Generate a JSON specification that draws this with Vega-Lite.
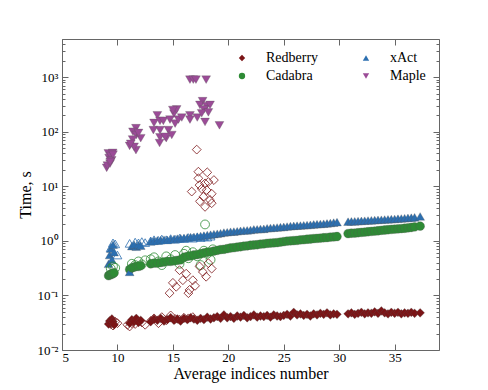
{
  "$schema": "https://vega.github.io/schema/vega-lite/v6.json",
  "width": 377,
  "height": 311,
  "autosize": {"type": "none"},
  "padding": {"left": 62, "top": 39, "right": 49, "bottom": 40},
  "background": "white",
  "config": {
    "font": "Liberation Serif",
    "view": {"stroke": null},
    "axis": {"grid": false, "domainColor": "#666", "tickColor": "#666", "labelColor": "#000", "titleColor": "#000", "labelFont": "Liberation Serif", "titleFont": "Liberation Serif", "titleFontWeight": "normal", "labelFontSize": 13, "titleFontSize": 16},
    "legend": {"orient": "none", "legendX": 173, "legendY": 12, "columns": 2, "labelFontSize": 14, "labelFont": "Liberation Serif", "labelColor": "#000", "symbolSize": 40, "labelOffset": 17, "columnPadding": 40, "rowPadding": 4, "padding": 0, "symbolStrokeWidth": 0}
  },
  "data": {
    "values": [
      {"x": 9.2, "v": "main", "Redberry": 0.030, "Cadabra": 0.23, "xAct": 0.38},
      {"x": 9.3, "v": "main", "Redberry": 0.034, "Cadabra": 0.24, "xAct": 0.55},
      {"x": 9.4, "v": "main", "Redberry": 0.031, "Cadabra": 0.24, "xAct": 0.72},
      {"x": 9.5, "v": "main", "Redberry": 0.037, "Cadabra": 0.25, "xAct": 0.45},
      {"x": 9.6, "v": "main", "Redberry": 0.033, "Cadabra": 0.25, "xAct": 0.85},
      {"x": 9.7, "v": "main", "Redberry": 0.029, "Cadabra": 0.26, "xAct": 0.62},
      {"x": 11.1, "v": "main", "Redberry": 0.031, "Cadabra": 0.30, "xAct": 0.27},
      {"x": 11.3, "v": "main", "Redberry": 0.036, "Cadabra": 0.32, "xAct": 0.80},
      {"x": 11.5, "v": "main", "Redberry": 0.033, "Cadabra": 0.33, "xAct": 0.85},
      {"x": 11.7, "v": "main", "Redberry": 0.038, "Cadabra": 0.34, "xAct": 0.78},
      {"x": 11.9, "v": "main", "Redberry": 0.032, "Cadabra": 0.34, "xAct": 0.84},
      {"x": 12.1, "v": "main", "Redberry": 0.035, "Cadabra": 0.35, "xAct": 0.82},
      {"x": 13.0, "v": "main", "Redberry": 0.033, "Cadabra": 0.38, "xAct": 0.98},
      {"x": 13.3, "v": "main", "Redberry": 0.037, "Cadabra": 0.39, "xAct": 1.00},
      {"x": 13.6, "v": "main", "Redberry": 0.035, "Cadabra": 0.39, "xAct": 1.02},
      {"x": 13.9, "v": "main", "Redberry": 0.038, "Cadabra": 0.40, "xAct": 1.03},
      {"x": 14.2, "v": "main", "Redberry": 0.034, "Cadabra": 0.41, "xAct": 1.05},
      {"x": 14.5, "v": "main", "Redberry": 0.036, "Cadabra": 0.42, "xAct": 1.04},
      {"x": 14.8, "v": "main", "Redberry": 0.039, "Cadabra": 0.42, "xAct": 1.07},
      {"x": 15.1, "v": "main", "Redberry": 0.035, "Cadabra": 0.43, "xAct": 1.08},
      {"x": 15.4, "v": "main", "Redberry": 0.037, "Cadabra": 0.44, "xAct": 1.10},
      {"x": 15.7, "v": "main", "Redberry": 0.034, "Cadabra": 0.45, "xAct": 1.12},
      {"x": 16.0, "v": "main", "Redberry": 0.038, "Cadabra": 0.50, "xAct": 1.13},
      {"x": 16.3, "v": "main", "Redberry": 0.036, "Cadabra": 0.52, "xAct": 1.15},
      {"x": 16.6, "v": "main", "Redberry": 0.039, "Cadabra": 0.53, "xAct": 1.17},
      {"x": 16.9, "v": "main", "Redberry": 0.037, "Cadabra": 0.55, "xAct": 1.18},
      {"x": 17.2, "v": "main", "Redberry": 0.035, "Cadabra": 0.56, "xAct": 1.20},
      {"x": 17.5, "v": "main", "Redberry": 0.038, "Cadabra": 0.58, "xAct": 1.23},
      {"x": 17.8, "v": "main", "Redberry": 0.036, "Cadabra": 0.60, "xAct": 1.25},
      {"x": 18.1, "v": "main", "Redberry": 0.040, "Cadabra": 0.62, "xAct": 1.28},
      {"x": 18.4, "v": "main", "Redberry": 0.037, "Cadabra": 0.63, "xAct": 1.30},
      {"x": 18.7, "v": "main", "Redberry": 0.039, "Cadabra": 0.65, "xAct": 1.33},
      {"x": 19.0, "v": "main", "Redberry": 0.041, "Cadabra": 0.67, "xAct": 1.35},
      {"x": 19.3, "v": "main", "Redberry": 0.038, "Cadabra": 0.69, "xAct": 1.38},
      {"x": 19.6, "v": "main", "Redberry": 0.044, "Cadabra": 0.70, "xAct": 1.42},
      {"x": 19.9, "v": "main", "Redberry": 0.039, "Cadabra": 0.72, "xAct": 1.44},
      {"x": 20.2, "v": "main", "Redberry": 0.041, "Cadabra": 0.74, "xAct": 1.47},
      {"x": 20.5, "v": "main", "Redberry": 0.038, "Cadabra": 0.75, "xAct": 1.48},
      {"x": 20.8, "v": "main", "Redberry": 0.042, "Cadabra": 0.77, "xAct": 1.50},
      {"x": 21.1, "v": "main", "Redberry": 0.040, "Cadabra": 0.78, "xAct": 1.53},
      {"x": 21.4, "v": "main", "Redberry": 0.043, "Cadabra": 0.80, "xAct": 1.55},
      {"x": 21.7, "v": "main", "Redberry": 0.039, "Cadabra": 0.81, "xAct": 1.56},
      {"x": 22.0, "v": "main", "Redberry": 0.041, "Cadabra": 0.83, "xAct": 1.58},
      {"x": 22.3, "v": "main", "Redberry": 0.044, "Cadabra": 0.84, "xAct": 1.62},
      {"x": 22.6, "v": "main", "Redberry": 0.040, "Cadabra": 0.85, "xAct": 1.63},
      {"x": 22.9, "v": "main", "Redberry": 0.042, "Cadabra": 0.87, "xAct": 1.65},
      {"x": 23.2, "v": "main", "Redberry": 0.041, "Cadabra": 0.88, "xAct": 1.66},
      {"x": 23.5, "v": "main", "Redberry": 0.043, "Cadabra": 0.90, "xAct": 1.70},
      {"x": 23.8, "v": "main", "Redberry": 0.040, "Cadabra": 0.91, "xAct": 1.72},
      {"x": 24.1, "v": "main", "Redberry": 0.044, "Cadabra": 0.92, "xAct": 1.74},
      {"x": 24.4, "v": "main", "Redberry": 0.042, "Cadabra": 0.93, "xAct": 1.76},
      {"x": 24.7, "v": "main", "Redberry": 0.041, "Cadabra": 0.95, "xAct": 1.78},
      {"x": 25.0, "v": "main", "Redberry": 0.043, "Cadabra": 0.97, "xAct": 1.80},
      {"x": 25.3, "v": "main", "Redberry": 0.045, "Cadabra": 0.99, "xAct": 1.83},
      {"x": 25.6, "v": "main", "Redberry": 0.042, "Cadabra": 1.00, "xAct": 1.86},
      {"x": 25.9, "v": "main", "Redberry": 0.049, "Cadabra": 1.01, "xAct": 1.88},
      {"x": 26.2, "v": "main", "Redberry": 0.044, "Cadabra": 1.02, "xAct": 1.90},
      {"x": 26.5, "v": "main", "Redberry": 0.046, "Cadabra": 1.04, "xAct": 1.91},
      {"x": 26.8, "v": "main", "Redberry": 0.043, "Cadabra": 1.05, "xAct": 1.93},
      {"x": 27.1, "v": "main", "Redberry": 0.045, "Cadabra": 1.07, "xAct": 1.95},
      {"x": 27.4, "v": "main", "Redberry": 0.042, "Cadabra": 1.08, "xAct": 1.97},
      {"x": 27.7, "v": "main", "Redberry": 0.046, "Cadabra": 1.10, "xAct": 2.00},
      {"x": 28.0, "v": "main", "Redberry": 0.044, "Cadabra": 1.11, "xAct": 2.02},
      {"x": 28.3, "v": "main", "Redberry": 0.047, "Cadabra": 1.12, "xAct": 2.04},
      {"x": 28.6, "v": "main", "Redberry": 0.045, "Cadabra": 1.14, "xAct": 2.06},
      {"x": 28.9, "v": "main", "Redberry": 0.048, "Cadabra": 1.15, "xAct": 2.09},
      {"x": 29.2, "v": "main", "Redberry": 0.044, "Cadabra": 1.17, "xAct": 2.12},
      {"x": 29.5, "v": "main", "Redberry": 0.046, "Cadabra": 1.18, "xAct": 2.16},
      {"x": 29.8, "v": "main", "Redberry": 0.045, "Cadabra": 1.20, "xAct": 2.20},
      {"x": 30.8, "v": "main", "Redberry": 0.046, "Cadabra": 1.36, "xAct": 2.25},
      {"x": 31.1, "v": "main", "Redberry": 0.048, "Cadabra": 1.38, "xAct": 2.27},
      {"x": 31.4, "v": "main", "Redberry": 0.045, "Cadabra": 1.39, "xAct": 2.28},
      {"x": 31.7, "v": "main", "Redberry": 0.047, "Cadabra": 1.41, "xAct": 2.30},
      {"x": 32.0, "v": "main", "Redberry": 0.049, "Cadabra": 1.43, "xAct": 2.32},
      {"x": 32.3, "v": "main", "Redberry": 0.046, "Cadabra": 1.45, "xAct": 2.34},
      {"x": 32.6, "v": "main", "Redberry": 0.048, "Cadabra": 1.47, "xAct": 2.36},
      {"x": 32.9, "v": "main", "Redberry": 0.047, "Cadabra": 1.49, "xAct": 2.38},
      {"x": 33.2, "v": "main", "Redberry": 0.050, "Cadabra": 1.51, "xAct": 2.40},
      {"x": 33.5, "v": "main", "Redberry": 0.047, "Cadabra": 1.53, "xAct": 2.42},
      {"x": 33.8, "v": "main", "Redberry": 0.052, "Cadabra": 1.56, "xAct": 2.44},
      {"x": 34.1, "v": "main", "Redberry": 0.048, "Cadabra": 1.58, "xAct": 2.46},
      {"x": 34.4, "v": "main", "Redberry": 0.046, "Cadabra": 1.60, "xAct": 2.48},
      {"x": 34.7, "v": "main", "Redberry": 0.049, "Cadabra": 1.62, "xAct": 2.50},
      {"x": 35.0, "v": "main", "Redberry": 0.047, "Cadabra": 1.64, "xAct": 2.52},
      {"x": 35.3, "v": "main", "Redberry": 0.049, "Cadabra": 1.66, "xAct": 2.55},
      {"x": 35.6, "v": "main", "Redberry": 0.046, "Cadabra": 1.68, "xAct": 2.57},
      {"x": 35.9, "v": "main", "Redberry": 0.048, "Cadabra": 1.70, "xAct": 2.60},
      {"x": 36.2, "v": "main", "Redberry": 0.047, "Cadabra": 1.73, "xAct": 2.63},
      {"x": 36.5, "v": "main", "Redberry": 0.049, "Cadabra": 1.76, "xAct": 2.66},
      {"x": 36.8, "v": "main", "Redberry": 0.047, "Cadabra": 1.80, "xAct": 2.70},
      {"x": 37.3, "v": "main", "Redberry": 0.048, "Cadabra": 1.86, "xAct": 2.80},

      {"x": 9.4, "v": "alt", "Redberry": 0.030, "Cadabra": 0.31, "xAct": 0.75},
      {"x": 9.6, "v": "alt", "Redberry": 0.028, "Cadabra": 0.34, "xAct": 0.92},
      {"x": 9.8, "v": "alt", "Redberry": 0.033, "Cadabra": 0.32, "xAct": 0.88},
      {"x": 10.0, "v": "alt", "Redberry": 0.031, "xAct": 0.55},
      {"x": 10.9, "v": "alt", "Redberry": 0.029},
      {"x": 11.1, "v": "alt", "Redberry": 0.027, "xAct": 0.90},
      {"x": 11.3, "v": "alt", "Redberry": 0.031, "Cadabra": 0.38},
      {"x": 11.6, "v": "alt", "Redberry": 0.030, "Cadabra": 0.36, "xAct": 0.95},
      {"x": 11.9, "v": "alt", "Redberry": 0.033, "Cadabra": 0.42, "xAct": 0.92},
      {"x": 12.2, "v": "alt", "Redberry": 0.032, "Cadabra": 0.37, "xAct": 0.97},
      {"x": 12.5, "v": "alt", "Redberry": 0.029, "Cadabra": 0.44, "xAct": 0.93},
      {"x": 13.0, "v": "alt", "Redberry": 0.034, "Cadabra": 0.46, "xAct": 1.00},
      {"x": 13.3, "v": "alt", "Redberry": 0.038, "Cadabra": 0.50, "xAct": 1.05},
      {"x": 13.7, "v": "alt", "Redberry": 0.031, "Cadabra": 0.42, "xAct": 1.02},
      {"x": 14.0, "v": "alt", "Redberry": 0.040, "Cadabra": 0.36, "xAct": 1.08},
      {"x": 14.4, "v": "alt", "Redberry": 0.035, "Cadabra": 0.52, "xAct": 1.05},
      {"x": 14.8, "v": "alt", "Redberry": 0.043, "Cadabra": 0.46, "xAct": 1.10},
      {"x": 15.2, "v": "alt", "Redberry": 0.037, "Cadabra": 0.55, "xAct": 1.07},
      {"x": 15.6, "v": "alt", "Redberry": 0.036, "Cadabra": 0.38, "xAct": 1.12},
      {"x": 16.0, "v": "alt", "Redberry": 0.039, "Cadabra": 0.58, "xAct": 1.10},
      {"x": 16.4, "v": "alt", "Redberry": 0.038, "Cadabra": 0.48, "xAct": 1.15},
      {"x": 16.8, "v": "alt", "Redberry": 0.040, "Cadabra": 0.62, "xAct": 1.12},
      {"x": 17.2, "v": "alt", "Cadabra": 0.52, "xAct": 1.18},
      {"x": 17.5, "v": "alt", "Cadabra": 0.36, "xAct": 1.15},
      {"x": 17.8, "v": "alt", "Cadabra": 0.66, "xAct": 1.20},
      {"x": 18.1, "v": "alt", "Cadabra": 0.58, "xAct": 1.17},
      {"x": 18.4, "v": "alt", "Cadabra": 0.45, "xAct": 1.22},
      {"x": 18.6, "v": "alt", "Cadabra": 0.70},
      {"x": 17.9, "v": "alt", "Cadabra": 2.0},
      {"x": 16.2, "v": "alt", "Cadabra": 0.66},
      {"x": 14.7, "v": "alt", "Redberry": 0.11},
      {"x": 15.3, "v": "alt", "Redberry": 0.144},
      {"x": 15.9, "v": "alt", "Redberry": 0.19},
      {"x": 16.2, "v": "alt", "Redberry": 0.25},
      {"x": 15.6, "v": "alt", "Redberry": 0.29},
      {"x": 16.5, "v": "alt", "Redberry": 0.126},
      {"x": 16.8, "v": "alt", "Redberry": 0.19},
      {"x": 17.4, "v": "alt", "Redberry": 0.34},
      {"x": 18.0, "v": "alt", "Redberry": 0.22},
      {"x": 18.2, "v": "alt", "Redberry": 0.39},
      {"x": 16.4, "v": "alt", "Redberry": 0.11},
      {"x": 17.0, "v": "alt", "Redberry": 0.15},
      {"x": 17.7, "v": "alt", "Redberry": 0.27},
      {"x": 18.5, "v": "alt", "Redberry": 0.31},
      {"x": 15.0, "v": "alt", "Redberry": 0.17},
      {"x": 17.15, "v": "alt", "Redberry": 47},
      {"x": 17.3, "v": "alt", "Redberry": 18.5},
      {"x": 18.1, "v": "alt", "Redberry": 18},
      {"x": 17.3, "v": "alt", "Redberry": 14},
      {"x": 18.7, "v": "alt", "Redberry": 13},
      {"x": 17.9, "v": "alt", "Redberry": 11.3},
      {"x": 17.4, "v": "alt", "Redberry": 10.5},
      {"x": 16.7, "v": "alt", "Redberry": 8},
      {"x": 18.05, "v": "alt", "Redberry": 8.5},
      {"x": 18.5, "v": "alt", "Redberry": 7.3},
      {"x": 17.75, "v": "alt", "Redberry": 6.4},
      {"x": 18.35, "v": "alt", "Redberry": 5.6},
      {"x": 17.9, "v": "alt", "Redberry": 4.2},
      {"x": 17.44, "v": "alt", "Redberry": 5.3},
      {"x": 18.5, "v": "alt", "Redberry": 4.9},
      {"x": 17.6, "v": "alt", "Redberry": 9},
      {"x": 18.2, "v": "alt", "Redberry": 12},

      {"x": 9.03, "v": "main", "Maple": 21.8},
      {"x": 9.1, "v": "main", "Maple": 24},
      {"x": 9.18, "v": "main", "Maple": 40},
      {"x": 9.25, "v": "main", "Maple": 33},
      {"x": 9.33, "v": "main", "Maple": 26},
      {"x": 9.4, "v": "main", "Maple": 36},
      {"x": 9.48, "v": "main", "Maple": 30},
      {"x": 9.57, "v": "main", "Maple": 41},
      {"x": 9.6, "v": "main", "Maple": 38},
      {"x": 9.35, "v": "main", "Maple": 28},
      {"x": 11.67, "v": "main", "Maple": 116},
      {"x": 11.4, "v": "main", "Maple": 100},
      {"x": 11.7, "v": "main", "Maple": 87},
      {"x": 12.1, "v": "main", "Maple": 76},
      {"x": 11.37, "v": "main", "Maple": 72},
      {"x": 11.1, "v": "main", "Maple": 55},
      {"x": 11.67, "v": "main", "Maple": 46},
      {"x": 11.5, "v": "main", "Maple": 53},
      {"x": 11.9, "v": "main", "Maple": 95},
      {"x": 11.2, "v": "main", "Maple": 60},
      {"x": 13.6, "v": "main", "Maple": 200},
      {"x": 13.3, "v": "main", "Maple": 145},
      {"x": 13.84, "v": "main", "Maple": 158},
      {"x": 14.14, "v": "main", "Maple": 158},
      {"x": 13.24, "v": "main", "Maple": 107},
      {"x": 13.84, "v": "main", "Maple": 107},
      {"x": 14.6, "v": "main", "Maple": 107},
      {"x": 13.84, "v": "main", "Maple": 79},
      {"x": 14.4, "v": "main", "Maple": 76},
      {"x": 14.9, "v": "main", "Maple": 87},
      {"x": 13.8, "v": "main", "Maple": 62},
      {"x": 14.74, "v": "main", "Maple": 167},
      {"x": 15.1, "v": "main", "Maple": 215},
      {"x": 15.34, "v": "main", "Maple": 256},
      {"x": 15.2, "v": "main", "Maple": 141},
      {"x": 15.5, "v": "main", "Maple": 167},
      {"x": 15.8, "v": "main", "Maple": 182},
      {"x": 16.54, "v": "main", "Maple": 200},
      {"x": 16.54, "v": "main", "Maple": 167},
      {"x": 17.2, "v": "main", "Maple": 182},
      {"x": 17.68, "v": "main", "Maple": 363},
      {"x": 17.44, "v": "main", "Maple": 310},
      {"x": 18.05, "v": "main", "Maple": 295},
      {"x": 18.35, "v": "main", "Maple": 310},
      {"x": 17.8, "v": "main", "Maple": 257},
      {"x": 17.6, "v": "main", "Maple": 218},
      {"x": 18.2, "v": "main", "Maple": 226},
      {"x": 17.9, "v": "main", "Maple": 151},
      {"x": 19.2, "v": "main", "Maple": 131},
      {"x": 14.3, "v": "main", "Maple": 81},
      {"x": 15.0, "v": "main", "Maple": 250},
      {"x": 16.54, "v": "main", "Maple": 900},
      {"x": 16.84, "v": "main", "Maple": 900},
      {"x": 17.08, "v": "main", "Maple": 900},
      {"x": 18.0, "v": "main", "Maple": 900}
    ]
  },
  "transform": [
    {"fold": ["Redberry", "Cadabra", "xAct", "Maple"], "as": ["tool", "time"]},
    {"filter": "isValid(datum.time)"}
  ],
  "resolve": {"axis": {"x": "independent", "y": "independent"}},
  "layer": [
    {
      "transform": [{"filter": "datum.v == 'main'"}],
      "mark": {"type": "point", "filled": true, "size": 78, "opacity": 1, "stroke": "#555", "strokeWidth": 0.3},
      "encoding": {
        "x": {"field": "x", "type": "quantitative", "scale": {"domain": [5, 39], "nice": false, "zero": false},
          "axis": {"orient": "bottom", "values": [5, 10, 15, 20, 25, 30, 35], "tickSize": -6, "labelPadding": 7, "title": "Average indices number", "titlePadding": 1}},
        "y": {"field": "time", "type": "quantitative", "scale": {"type": "log", "domain": [0.01, 5000], "nice": false},
          "axis": {"orient": "left", "title": "Time, s", "titlePadding": 4, "labelOverlap": false, "labelPadding": 10,
            "values": [0.01,0.02,0.03,0.04,0.05,0.06,0.07,0.08,0.09,0.1,0.2,0.3,0.4,0.5,0.6,0.7,0.8,0.9,1,2,3,4,5,6,7,8,9,10,20,30,40,50,60,70,80,90,100,200,300,400,500,600,700,800,900,1000,2000,3000,4000,5000],
            "labelExpr": "datum.value==0.01?'10⁻²':datum.value==0.1?'10⁻¹':datum.value==1?'10⁰':datum.value==10?'10¹':datum.value==100?'10²':datum.value==1000?'10³':''",
            "tickSize": {"condition": {"test": "datum.value==0.01||datum.value==0.1||datum.value==1||datum.value==10||datum.value==100||datum.value==1000", "value": -6}, "value": -3}}},
        "color": {"field": "tool", "type": "nominal", "title": null, "scale": {"domain": ["Redberry", "Cadabra", "xAct", "Maple"], "range": ["#7b1416", "#2e8b35", "#2c6fb0", "#9b4b97"]}},
        "shape": {"field": "tool", "type": "nominal", "title": null, "scale": {"domain": ["Redberry", "Cadabra", "xAct", "Maple"], "range": ["diamond", "circle", "triangle-up", "triangle-down"]}}
      }
    },
    {
      "transform": [{"filter": "datum.v == 'alt'"}],
      "mark": {"type": "point", "filled": false, "size": 78, "strokeWidth": 0.8, "opacity": 1},
      "encoding": {
        "x": {"field": "x", "type": "quantitative",
          "axis": {"orient": "top", "values": [5, 10, 15, 20, 25, 30, 35], "tickSize": -6, "labels": false, "title": null}},
        "y": {"field": "time", "type": "quantitative",
          "axis": {"orient": "right", "title": null, "labels": false,
            "values": [0.01,0.02,0.03,0.04,0.05,0.06,0.07,0.08,0.09,0.1,0.2,0.3,0.4,0.5,0.6,0.7,0.8,0.9,1,2,3,4,5,6,7,8,9,10,20,30,40,50,60,70,80,90,100,200,300,400,500,600,700,800,900,1000,2000,3000,4000,5000],
            "tickSize": {"condition": {"test": "datum.value==0.01||datum.value==0.1||datum.value==1||datum.value==10||datum.value==100||datum.value==1000", "value": -6}, "value": -3}}},
        "color": {"field": "tool", "type": "nominal", "title": null},
        "shape": {"field": "tool", "type": "nominal", "title": null}
      }
    }
  ]
}
